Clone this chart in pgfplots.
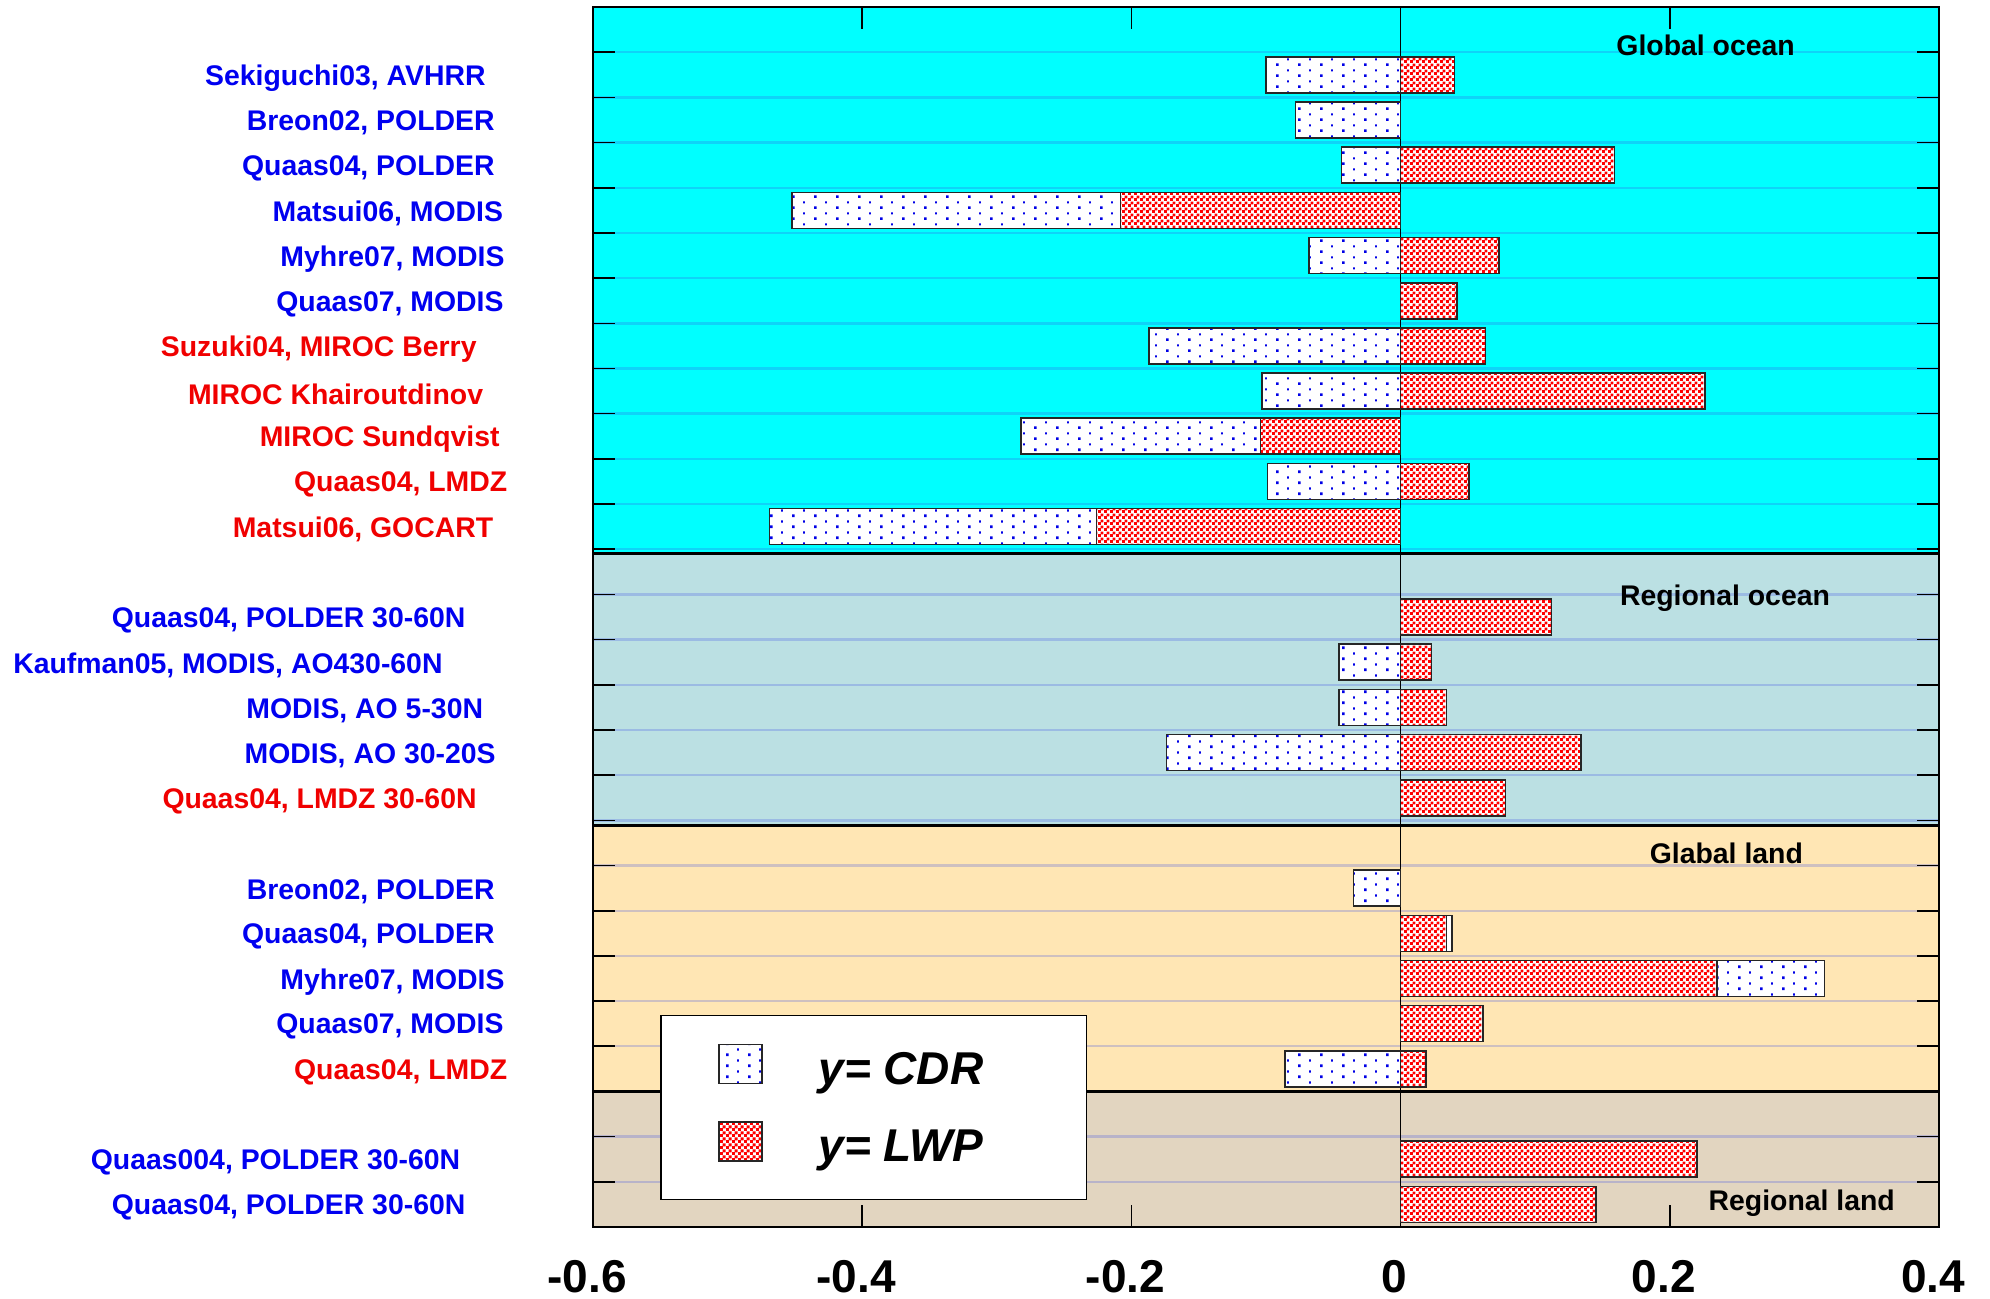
\documentclass[border=0pt]{standalone}
\usepackage{pgfplots}
\pgfplotsset{compat=1.18}
\usepackage{fontspec}
\setmainfont{Liberation Sans}
\usetikzlibrary{patterns}

\pgfdeclarepatternformonly{cdrdots}{\pgfqpoint{-1pt}{-1pt}}{\pgfqpoint{12pt}{6.5pt}}{\pgfqpoint{11pt}{5.5pt}}{%
 \pgfpathrectangle{\pgfqpoint{0pt}{0pt}}{\pgfqpoint{1.3pt}{1.3pt}}%
 \pgfpathrectangle{\pgfqpoint{5.5pt}{2.75pt}}{\pgfqpoint{0.9pt}{1.1pt}}%
 \pgfusepath{fill}}
\pgfdeclarepatternformonly{lwpcheck}{\pgfqpoint{0pt}{0pt}}{\pgfqpoint{3pt}{3pt}}{\pgfqpoint{3pt}{3pt}}{%
 \pgfpathrectangle{\pgfqpoint{0pt}{0pt}}{\pgfqpoint{1.65pt}{1.65pt}}%
 \pgfpathrectangle{\pgfqpoint{1.5pt}{1.5pt}}{\pgfqpoint{1.65pt}{1.65pt}}%
 \pgfusepath{fill}}

\definecolor{gocean}{RGB}{0,255,255}
\definecolor{rocean}{RGB}{187,224,227}
\definecolor{gland}{RGB}{255,230,180}
\definecolor{rland}{RGB}{226,213,192}
\definecolor{labblue}{RGB}{0,0,240}
\definecolor{labred}{RGB}{240,0,0}
\definecolor{dotblue}{RGB}{0,0,230}
\definecolor{chkred}{RGB}{255,0,0}
\definecolor{gridc}{RGB}{60,80,230}

\pgfplotsset{
  mylegend/.style={legend image code/.code={\draw[##1] (0pt,-6.8pt) rectangle (21.5pt,12.7pt);}},
  mylegendb/.style={legend image code/.code={\path (0pt,-11.5pt) -- (0pt,-11.5pt);\draw[##1] (0pt,-6.8pt) rectangle (21.5pt,12.7pt);}}}

\newcommand{\lb}[2]{\textcolor{labblue}{#2}\hspace*{#1pt}}
\newcommand{\lr}[2]{\textcolor{labred}{#2}\hspace*{#1pt}}

\begin{document}
\begin{tikzpicture}
\begin{axis}[
  set layers,
  scale only axis,
  width=673pt, height=610pt,
  xmin=-0.6, xmax=0.4, ymin=-26, ymax=1,
  axis line style={line width=1.2pt, black},
  xtick={-0.6,-0.4,-0.2,0,0.2,0.4},
  xticklabels={-0.6,-0.4,-0.2,0,0.2,0.4},
  xticklabel style={font=\fontsize{23}{26}\selectfont\bfseries, anchor=base, yshift=-32.5pt, xshift=-3pt, inner sep=0pt},
  ytick={-25,-24,...,0},
  yticklabels={},
  major tick length=11pt,
  tick style={black, line width=0.8pt},
  ymajorgrids=true,
  every axis y grid/.style={color=gridc, opacity=0.25, line width=1.2pt},
  every axis x grid/.style={black, line width=0.6pt},
  extra x ticks={0}, extra x tick labels={},
  extra x tick style={grid=major, major tick length=0pt},
  extra y ticks={-0.5,-1.5,-2.5,-3.5,-4.5,-5.5,-6.5,-7.5,-8.5,-9.5,-10.5,-12.5,-13.5,-14.5,-15.5,-16.5,-18.5,-19.5,-20.5,-21.5,-22.5,-24.5,-25.5},
  extra y tick labels={
    \lb{53.5}{Sekiguchi03, AVHRR},
    \lb{49}{Breon02, POLDER},
    \lb{49}{Quaas04, POLDER},
    \lb{44.75}{Matsui06, MODIS},
    \lb{44}{Myhre07, MODIS},
    \lb{44.5}{Quaas07, MODIS},
    \lr{58}{Suzuki04, MIROC Berry},
    \lr{54.75}{MIROC Khairoutdinov},
    \lr{46.5}{MIROC Sundqvist},
    \lr{42.7}{Quaas04, LMDZ},
    \lr{49.7}{Matsui06, GOCART},
    \lb{63.6}{Quaas04, POLDER 30-60N},
    \lb{75}{Kaufman05, MODIS, AO430-60N},
    \lb{54.75}{MODIS, AO 5-30N},
    \lb{48.5}{MODIS, AO 30-20S},
    \lr{58}{Quaas04, LMDZ 30-60N},
    \lb{49}{Breon02, POLDER},
    \lb{49}{Quaas04, POLDER},
    \lb{44}{Myhre07, MODIS},
    \lb{44.5}{Quaas07, MODIS},
    \lr{42.7}{Quaas04, LMDZ},
    \lb{66.2}{Quaas004, POLDER 30-60N},
    \lb{63.6}{Quaas04, POLDER 30-60N}},
  extra y tick style={grid=none, major tick length=0pt},
  yticklabel style={font=\fontsize{14.2}{16}\selectfont\bfseries, inner sep=0pt, anchor=east, yshift=-1.6pt},
  legend cell align=left,
  legend style={at={(axis cs:-0.55,-21.31)}, anchor=north west, draw=black, line width=0.6pt, fill=white,
    inner xsep=28.5pt, inner ysep=14pt, row sep=17pt,
    font=\fontsize{23}{26}\selectfont\bfseries\itshape, nodes={inner sep=0pt}},
]
\pgfplotsextra{%
\begin{pgfonlayer}{axis background}
\fill[gocean] (axis cs:-0.6,1) rectangle (axis cs:0.4,-11.1);
\fill[rocean] (axis cs:-0.6,-11.1) rectangle (axis cs:0.4,-17.12);
\fill[gland] (axis cs:-0.6,-17.12) rectangle (axis cs:0.4,-23.0);
\fill[rland] (axis cs:-0.6,-23.04) rectangle (axis cs:0.4,-26);
\end{pgfonlayer}}
\draw[black, line width=1.3pt] (axis cs:-0.6,-11.1) -- (axis cs:0.4,-11.1);
\draw[black, line width=1.3pt] (axis cs:-0.6,-17.12) -- (axis cs:0.4,-17.12);
\draw[black, line width=1.3pt] (axis cs:-0.6,-23.0) -- (axis cs:0.4,-23.0);

\addplot[xbar, bar width=18pt, bar shift=0pt, draw=black!85, line width=0.8pt, fill=white,
  postaction={pattern=cdrdots, pattern color=dotblue}, mylegend]
coordinates {
(-0.100,-0.5) (-0.078,-1.5) (-0.044,-2.5) (-0.452,-3.5) (-0.068,-4.5)
(-0.187,-6.5) (-0.103,-7.5) (-0.282,-8.5) (-0.099,-9.5) (-0.469,-10.5)
(-0.046,-13.5) (-0.046,-14.5) (-0.174,-15.5)
(-0.035,-18.5) (0.038,-19.5) (0.315,-20.5) (-0.086,-22.5)
};
\addplot[xbar, bar width=18pt, bar shift=0pt, draw=black!85, line width=0.8pt, fill=white,
  postaction={pattern=lwpcheck, pattern color=chkred}, mylegendb]
coordinates {
(0.040,-0.5) (0.159,-2.5) (-0.208,-3.5) (0.073,-4.5) (0.042,-5.5)
(0.063,-6.5) (0.226,-7.5) (-0.104,-8.5) (0.051,-9.5) (-0.226,-10.5)
(0.112,-12.5) (0.023,-13.5) (0.034,-14.5) (0.134,-15.5) (0.078,-16.5)
(0.034,-19.5) (0.235,-20.5) (0.061,-21.5) (0.019,-22.5)
(0.220,-24.5) (0.145,-25.5)
};
\legend{{\hspace*{28pt}y= CDR\hspace*{23pt}},{\hspace*{28pt}y= LWP\hspace*{23pt}}}

\node[anchor=base, font=\fontsize{14.2}{16}\selectfont\bfseries] at (axis cs:0.2266,-0.073) {Global ocean};
\node[anchor=base, font=\fontsize{14.2}{16}\selectfont\bfseries] at (axis cs:0.241,-12.24) {Regional ocean};
\node[anchor=base, font=\fontsize{14.2}{16}\selectfont\bfseries] at (axis cs:0.242,-17.95) {Glabal land};
\node[anchor=base, font=\fontsize{14.2}{16}\selectfont\bfseries] at (axis cs:0.298,-25.63) {Regional land};
\end{axis}
\path (-296.5pt,-35.5pt) rectangle (698.5pt,613.5pt);
\end{tikzpicture}
\end{document}
